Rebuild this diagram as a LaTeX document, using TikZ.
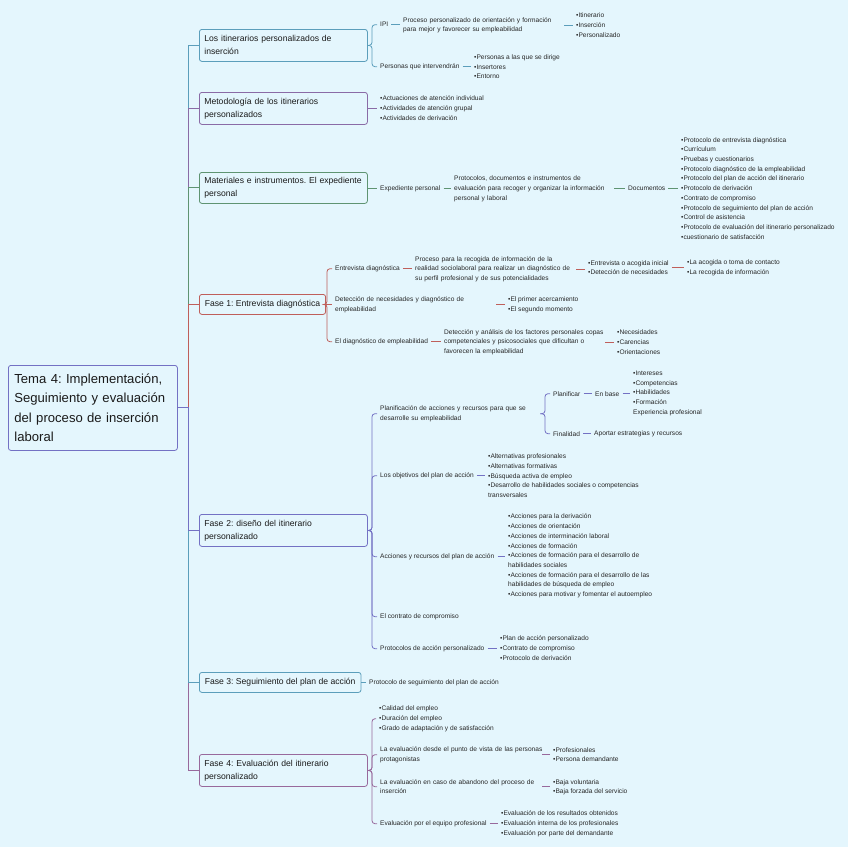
\documentclass[tikz,border=0pt]{standalone}
\usepackage{fontspec}
\setmainfont{Liberation Sans}
\definecolor{bg}{HTML}{E4F6FD}
\definecolor{txt}{HTML}{262626}
\definecolor{txtd}{HTML}{1A1A1A}
\definecolor{cA}{HTML}{5B9EBB}
\definecolor{cB}{HTML}{8A6BA6}
\definecolor{cC}{HTML}{5F9472}
\definecolor{cD}{HTML}{BF5F5B}
\definecolor{cE}{HTML}{7371C4}
\definecolor{cF}{HTML}{98699C}
\newcommand\smf{\fontsize{6.6}{9.7}\selectfont}
\newcommand\mb[1]{\mbox{#1}}
\begin{document}
\frenchspacing
\begin{tikzpicture}[x=1pt,y=-1pt,
  every node/.style={inner sep=0pt},
  lf/.style={anchor=west, align=left, font=\smf, text=txt, yshift=-0.7pt},
  box/.style={draw, rounded corners=2.5pt, fill=bg, line width=0.8pt, inner xsep=5pt, inner ysep=0pt, anchor=north west, align=left, font=\fontsize{8.6}{13}\selectfont, text=txtd},
  rootbox/.style={draw=cE, rounded corners=2.5pt, fill=bg, line width=0.8pt, inner xsep=6pt, inner ysep=0pt, anchor=north west, align=left, font=\fontsize{13.1}{19.5}\selectfont, text=txtd, text width=157pt, minimum height=85pt},
  ln/.style={line width=0.8pt, shorten <=3pt, shorten >=3.5pt},
  br/.style={line width=0.8pt, rounded corners=3pt, shorten >=3pt},
  tr/.style={line width=0.9pt}
]
\fill[bg] (0,0) rectangle (848,847);
\useasboundingbox (0,0) rectangle (848,847);

% root
\node[rootbox] (root) at (8,365) {\mb{Tema 4: Implementación,}\\\mb{Seguimiento y evaluación}\\\mb{del proceso de inserción}\\laboral};

% level 1 boxes
\node[box, draw=cA, text width=158pt, minimum height=32pt] (b1) at (199,29) {\mb{Los itinerarios personalizados de}\\inserción};
\node[box, draw=cB, text width=158pt, minimum height=32pt] (b2) at (199,92) {\mb{Metodología de los itinerarios}\\personalizados};
\node[box, draw=cC, text width=158pt, minimum height=31pt] (b3) at (199,172) {\mb{Materiales e instrumentos. El expediente}\\personal};
\node[box, draw=cD, minimum height=20pt, inner xsep=5.5pt] (b4) at (199,294) {Fase 1: Entrevista diagnóstica};
\node[box, draw=cE, text width=158pt, minimum height=32pt] (b5) at (199,514) {\mb{Fase 2: diseño del itinerario}\\personalizado};
\node[box, draw=cA, minimum height=20pt, inner xsep=5.5pt] (b6) at (199,672) {Fase 3: Seguimiento del plan de acción};
\node[box, draw=cF, text width=158pt, minimum height=32pt] (b7) at (199,754) {\mb{Fase 4: Evaluación del itinerario}\\personalizado};

% trunk
\draw[tr, cA] (root.east) -| ([xshift=-11pt]b1.west) -- (b1.west);
\draw[tr, cB] (root.east) -| ([xshift=-11pt]b2.west) -- (b2.west);
\draw[tr, cC] (root.east) -| ([xshift=-11pt]b3.west) -- (b3.west);
\draw[tr, cD] (root.east) -| ([xshift=-11pt]b4.west) -- (b4.west);
\draw[tr, cF] (root.east) -| ([xshift=-11pt]b7.west) -- (b7.west);
\draw[tr, cA] (root.east) -| ([xshift=-11pt]b6.west) -- (b6.west);
\draw[tr, cE] (root.east) -| ([xshift=-11pt]b5.west) -- (b5.west);

% ---------- branch 1
\node[lf] (n11) at (380,24) {IPI};
\node[lf] (n12) at (380,66) {Personas que intervendrán};
\node[lf, text width=158pt] (n111) at (403,24.5) {\mb{Proceso personalizado de orientación y formación}\\\mb{para mejor y favorecer su empleabilidad}};
\node[lf] (n1111) at (576,24.5) {•Itinerario\\•Inserción\\•Personalizado};
\node[lf] (n121) at (474,66) {•Personas a las que se dirige\\•Insertores\\•Entorno};
\draw[br, cA] (b1.east) -| ([xshift=-8pt]n11.west) -- (n11.west);
\draw[br, cA] (b1.east) -| ([xshift=-8pt]n12.west) -- (n12.west);
\draw[ln, cA] (n11.east) -- (n111.west |- n11.east);
\draw[ln, cA] (n111.east) -- (n1111.west |- n111.east);
\draw[ln, cA] (n12.east) -- (n121.west |- n12.east);

% ---------- branch 2
\node[lf] (n21) at (380,107.5) {•Actuaciones de atención individual\\•Actividades de atención grupal\\•Actividades de derivación};
\draw[ln, cB, shorten <=0pt] (b2.east) -- (n21.west |- b2.east);

% ---------- branch 3
\node[lf] (n31) at (380,188) {Expediente personal};
\node[lf, text width=157pt] (n311) at (454,188) {\mb{Protocolos, documentos e instrumentos de}\\\mb{evaluación para recoger y organizar la información}\\\mb{personal y laboral}};
\node[lf] (n3111) at (628,188) {Documentos};
\node[lf] (n31111) at (681,187.5) {•Protocolo de entrevista diagnóstica\\•Currículum\\•Pruebas y cuestionarios\\•Protocolo diagnóstico de la empleabilidad\\•Protocolo del plan de acción del itinerario\\•Protocolo de derivación\\•Contrato de compromiso\\•Protocolo de seguimiento del plan de acción\\•Control de asistencia\\•Protocolo de evaluación del itinerario personalizado\\•cuestionario de satisfacción};
\draw[ln, cC, shorten <=0pt] (b3.east) -- (n31.west |- b3.east);
\draw[ln, cC] (n31.east) -- (n311.west |- n31.east);
\draw[ln, cC] (n311.east) -- (n3111.west |- n311.east);
\draw[ln, cC] (n3111.east) -- (n31111.west |- n3111.east);

% ---------- branch 4
\node[lf] (n41) at (335,268) {Entrevista diagnóstica};
\node[lf, text width=158pt] (n42) at (335,304) {\mb{Detección de necesidades y diagnóstico de}\\\mb{empleabilidad}};
\node[lf] (n43) at (335,341) {El diagnóstico de empleabilidad};
\node[lf, text width=158pt] (n411) at (415,268.5) {\mb{Proceso para la recogida de información de la}\\\mb{realidad sociolaboral para realizar un diagnóstico de}\\\mb{su perfil profesional y de sus potencialidades}};
\node[lf] (n4111) at (588,267) {•Entrevista o acogida inicial\\•Detección de necesidades};
\node[lf] (n41111) at (687,267) {•La acogida o toma de contacto\\•La recogida de información};
\node[lf] (n421) at (508,304) {•El primer acercamiento\\•El segundo momento};
\node[lf, text width=158pt] (n431) at (444,341.5) {\mb{Detección y análisis de los factores personales copas}\\\mb{competenciales y psicosociales que dificultan o}\\\mb{favorecen la empleabilidad}};
\node[lf] (n4311) at (617,341.5) {•Necesidades\\•Carencias\\•Orientaciones};
\draw[br, cD] (b4.east) -| ([xshift=-8pt]n41.west) -- (n41.west);
\draw[br, cD] (b4.east) -| ([xshift=-8pt]n43.west) -- (n43.west);
\draw[ln, cD, shorten <=0pt] (b4.east) -- (n42.west |- b4.east);
\draw[ln, cD] (n41.east) -- (n411.west |- n41.east);
\draw[ln, cD] (n411.east) -- (n4111.west |- n411.east);
\draw[ln, cD] (n4111.east) -- (n41111.west |- n4111.east);
\draw[ln, cD] (n42.east) -- (n421.west |- n42.east);
\draw[ln, cD] (n43.east) -- (n431.west |- n43.east);
\draw[ln, cD] (n431.east) -- (n4311.west |- n431.east);

% ---------- branch 5
\node[lf, text width=157pt] (n51) at (380,413) {\mb{Planificación de acciones y recursos para que se}\\\mb{desarrolle su empleabilidad}};
\node[lf] (n511) at (553,393) {Planificar};
\node[lf] (n512) at (553,433) {Finalidad};
\node[lf] (n5111) at (595,393) {En base};
\node[lf] (n51111) at (633,392.5) {•Intereses\\•Competencias\\•Habilidades\\•Formación\\Experiencia profesional};
\node[lf] (n5121) at (594,433) {Aportar estrategias y recursos};
\node[lf] (n52) at (380,475) {Los objetivos del plan de acción};
\node[lf] (n521) at (488,475) {•Alternativas profesionales\\•Alternativas formativas\\•Búsqueda activa de empleo\\•Desarrollo de habilidades sociales o competencias\\transversales};
\node[lf] (n53) at (380,556) {Acciones y recursos del plan de acción};
\node[lf] (n531) at (508,555.3) {•Acciones para la derivación\\•Acciones de orientación\\•Acciones de interminación laboral\\•Acciones de formación\\•Acciones de formación para el desarrollo de\\habilidades sociales\\•Acciones de formación para el desarrollo de las\\habilidades de búsqueda de empleo\\•Acciones para motivar y fomentar el autoempleo};
\node[lf] (n54) at (380,616) {El contrato de compromiso};
\node[lf] (n55) at (380,648) {Protocolos de acción personalizado};
\node[lf] (n551) at (500,647.5) {•Plan de acción personalizado\\•Contrato de compromiso\\•Protocolo de derivación};
\draw[br, cE] (b5.east) -| ([xshift=-8pt]n51.west) -- (n51.west);
\draw[br, cE] (b5.east) -| ([xshift=-8pt]n52.west) -- (n52.west);
\draw[br, cE] (b5.east) -| ([xshift=-8pt]n53.west) -- (n53.west);
\draw[br, cE] (b5.east) -| ([xshift=-8pt]n54.west) -- (n54.west);
\draw[br, cE] (b5.east) -| ([xshift=-8pt]n55.west) -- (n55.west);
\draw[br, cE, shorten <=3pt] (n51.east) -| ([xshift=-8pt]n511.west) -- (n511.west);
\draw[br, cE, shorten <=3pt] (n51.east) -| ([xshift=-8pt]n512.west) -- (n512.west);
\draw[ln, cE] (n511.east) -- (n5111.west |- n511.east);
\draw[ln, cE] (n5111.east) -- (n51111.west |- n5111.east);
\draw[ln, cE] (n512.east) -- (n5121.west |- n512.east);
\draw[ln, cE] (n52.east) -- (n521.west |- n52.east);
\draw[ln, cE] (n53.east) -- (n531.west |- n53.east);
\draw[ln, cE] (n55.east) -- (n551.west |- n55.east);

% ---------- branch 6
\node[lf] (n61) at (369,682) {Protocolo de seguimiento del plan de acción};
\draw[ln, cA, shorten <=0pt] (b6.east) -- (n61.west |- b6.east);

% ---------- branch 7
\node[lf] (n71) at (379,718) {•Calidad del empleo\\•Duración del empleo\\•Grado de adaptación y de satisfacción};
\node[lf, text width=159pt] (n72) at (380,754) {\mb{La evaluación desde el punto de vista de las personas}\\\mb{protagonistas}};
\node[lf, text width=159pt] (n73) at (380,786) {\mb{La evaluación en caso de abandono del proceso de}\\\mb{inserción}};
\node[lf] (n74) at (380,823) {Evaluación por el equipo profesional};
\node[lf] (n721) at (553,754) {•Profesionales\\•Persona demandante};
\node[lf] (n731) at (553,786.5) {•Baja voluntaria\\•Baja forzada del servicio};
\node[lf] (n741) at (501,823) {•Evaluación de los resultados obtenidos\\•Evaluación interna de los profesionales\\•Evaluación por parte del demandante};
\draw[br, cF] (b7.east) -| ([xshift=-7pt]n71.west) -- (n71.west);
\draw[br, cF] (b7.east) -| ([xshift=-8pt]n74.west) -- (n74.west);
\draw[br, cF] (b7.east) -| ([xshift=-8pt]n72.west) -- (n72.west);
\draw[br, cF] (b7.east) -| ([xshift=-8pt]n73.west) -- (n73.west);
\draw[ln, cF] (n72.east) -- (n721.west |- n72.east);
\draw[ln, cF] (n73.east) -- (n731.west |- n73.east);
\draw[ln, cF] (n74.east) -- (n741.west |- n74.east);
\end{tikzpicture}
\end{document}
